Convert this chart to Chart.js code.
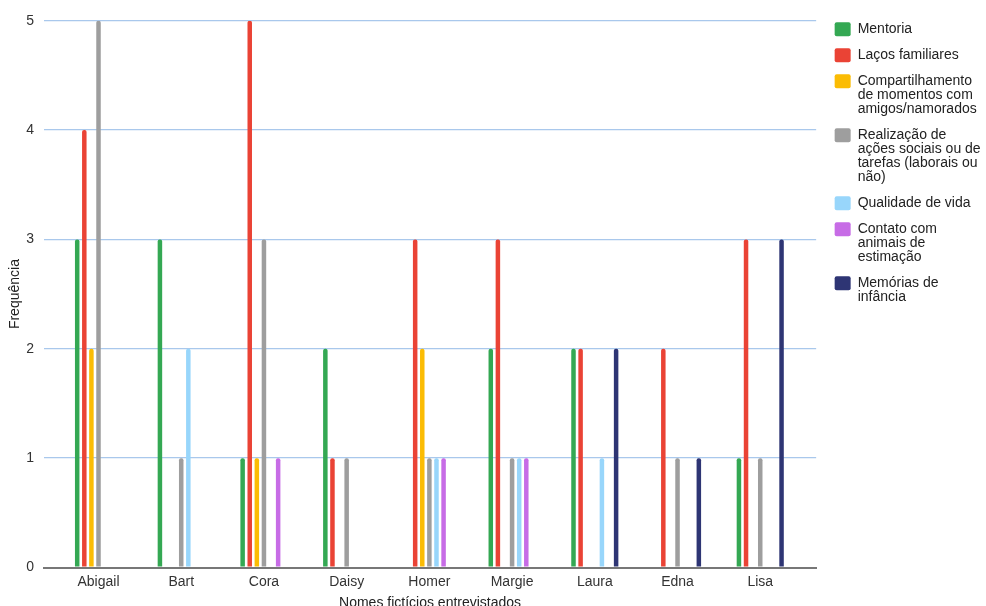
<!DOCTYPE html>
<html lang="pt">
<head>
<meta charset="utf-8">
<title>Frequência por entrevistado</title>
<script src="https://cdn.jsdelivr.net/npm/chart.js@4/dist/chart.umd.min.js"></script>
<style>
  html, body { margin: 0; padding: 0; background: #ffffff; }
  #wrap { position: relative; width: 986px; height: 606px; }
</style>
</head>
<body>
<div id="wrap"><canvas id="chart"></canvas></div>
<script>
// Entrevistados (eixo X)
const categories = ['Abigail', 'Bart', 'Cora', 'Daisy', 'Homer', 'Margie', 'Laura', 'Edna', 'Lisa'];

// Frequência de cada categoria por entrevistado
const mentoria         = [3, 3, 1, 2, 0, 2, 2, 0, 1];
const lacosFamiliares  = [4, 0, 5, 1, 3, 3, 2, 2, 3];
const compartilhamento = [2, 0, 1, 0, 2, 0, 0, 0, 0];
const realizacao       = [5, 1, 3, 1, 1, 1, 0, 1, 1];
const qualidadeVida    = [0, 2, 0, 0, 1, 1, 1, 0, 0];
const contatoAnimais   = [0, 0, 1, 0, 1, 1, 0, 0, 0];
const memoriasInfancia = [0, 0, 0, 0, 0, 0, 2, 1, 3];

// Marcas do eixo Y
const yTicks = [0, 1, 2, 3, 4, 5];

// Nomes das séries, quebrados em linhas para a legenda
const seriesNames = [
  ['Mentoria'],
  ['Laços familiares'],
  ['Compartilhamento', 'de momentos com', 'amigos/namorados'],
  ['Realização de', 'ações sociais ou de', 'tarefas (laborais ou', 'não)'],
  ['Qualidade de vida'],
  ['Contato com', 'animais de', 'estimação'],
  ['Memórias de', 'infância']
];
const seriesValues = [mentoria, lacosFamiliares, compartilhamento, realizacao,
                      qualidadeVida, contatoAnimais, memoriasInfancia];
const seriesColors = ['#34a853', '#ea4335', '#fbbc04', '#9e9e9e', '#98d6fb', '#c76ce6', '#2e3574'];

const FONT = '"Liberation Sans", Arial, sans-serif';
Chart.defaults.font.family = FONT;
Chart.defaults.font.size = 14;
Chart.defaults.color = '#222222';

// Desloca a legenda um pouco para a direita da área do gráfico
const legendShift = {
  id: 'legendShift',
  afterLayout(chart) {
    const lg = chart.legend;
    if (!lg) return;
    lg.left += 6.5;
    lg.right += 6.5;
  }
};

new Chart(document.getElementById('chart'), {
  type: 'bar',
  data: {
    datasets: seriesValues.map((vals, s) => ({
      label: seriesNames[s].join(' '),
      data: vals.map((v, i) => ({ x: i, y: v })),
      backgroundColor: seriesColors[s],
      borderWidth: 0,
      borderRadius: 2,
      categoryPercentage: 0.601,
      barPercentage: 0.634
    }))
  },
  options: {
    responsive: true,
    maintainAspectRatio: false,
    animation: false,
    layout: { padding: { top: 10.3, right: 5, bottom: 0, left: 0 } },
    plugins: {
      tooltip: { enabled: false },
      legend: {
        position: 'right',
        align: 'start',
        labels: {
          boxWidth: 16,
          boxHeight: 14,
          padding: 12,
          color: '#222222',
          useBorderRadius: true,
          borderRadius: 2,
          font: { family: FONT, size: 14, lineHeight: '14px' },
          generateLabels(chart) {
            const base = Chart.defaults.plugins.legend.labels.generateLabels(chart);
            return base.map((item, i) => Object.assign(item, {
              text: seriesNames[i].length > 1 ? seriesNames[i] : seriesNames[i][0],
              lineWidth: 0,
              strokeStyle: 'rgba(0,0,0,0)'
            }));
          }
        }
      }
    },
    scales: {
      x: {
        type: 'linear',
        offset: false,
        min: -0.659,
        max: 8.676,
        grid: { display: false, drawTicks: false, offset: false },
        border: { display: true, color: '#777777', width: 2 },
        afterBuildTicks(scale) {
          scale.ticks = categories.map((_, i) => ({ value: i }));
        },
        afterFit(scale) {
          scale.height = 38.5;
        },
        ticks: {
          autoSkip: false,
          maxRotation: 0,
          padding: 6,
          color: '#333333',
          font: { size: 14 },
          callback: (v) => categories[v]
        },
        title: {
          display: true,
          text: 'Nomes fictícios entrevistados',
          color: '#222222',
          font: { size: 14 },
          padding: { top: 0, bottom: -5.4 }
        }
      },
      y: {
        min: 0,
        max: 5,
        afterBuildTicks(scale) {
          scale.ticks = yTicks.map(v => ({ value: v }));
        },
        afterFit(scale) {
          scale.width = 44;
          scale.paddingTop = 20.7;
        },
        grid: {
          drawTicks: false,
          color: (c) => (c.tick && c.tick.value === 0) ? '#777777' : '#a9c8ec',
          lineWidth: (c) => (c.tick && c.tick.value === 0) ? 2 : 1.3
        },
        border: { display: false },
        ticks: {
          padding: 10,
          color: '#333333',
          font: { size: 14 }
        },
        title: {
          display: true,
          text: 'Frequência',
          color: '#222222',
          font: { size: 14 },
          padding: { top: 6.6, bottom: 0 }
        }
      }
    }
  },
  plugins: [legendShift]
});
</script>
</body>
</html>
